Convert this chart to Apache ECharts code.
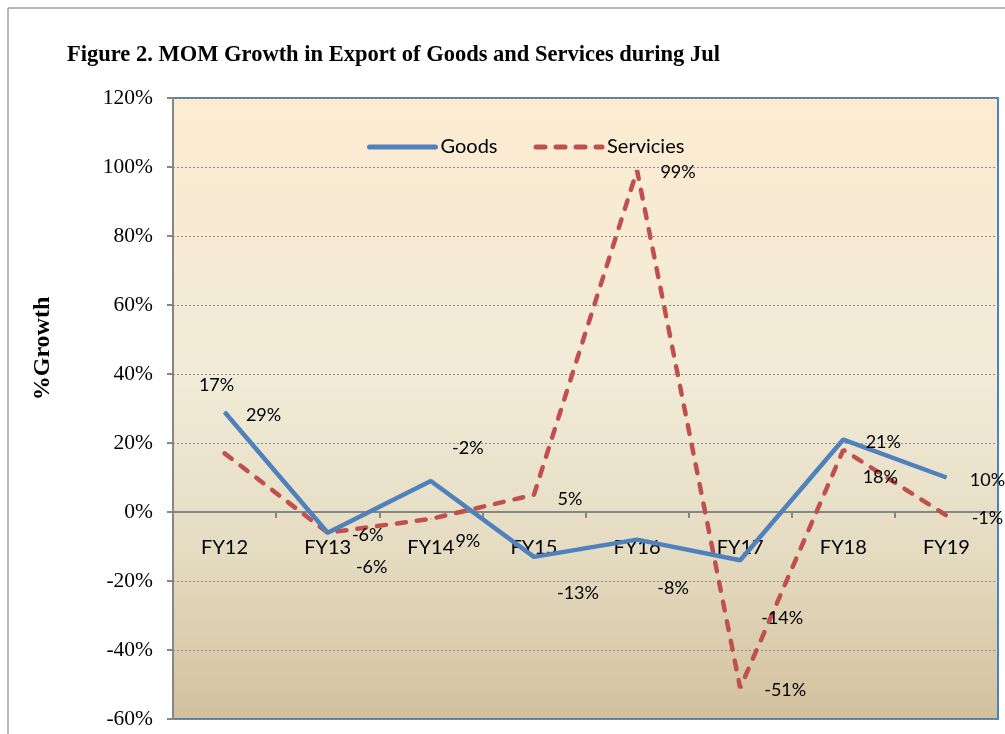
<!DOCTYPE html>
<html>
<head>
<meta charset="utf-8">
<script src="https://cdn.jsdelivr.net/npm/echarts@6/dist/echarts.min.js"></script>
<style>
  html, body { margin: 0; padding: 0; background: #fff; }
  #chartDom { width: 1005px; height: 734px; }
</style>
</head>
<body>
<div id="chartDom"></div>
<script>
// data
const years = ['FY12', 'FY13', 'FY14', 'FY15', 'FY16', 'FY17', 'FY18', 'FY19']
const goods = [29, -6, 9, -13, -8, -14, 21, 10]
const servicies = [17, -6, -2, 5, 99, -51, 18, -1]
const yTicks = { min: -60, max: 120, interval: 20 }

// label offsets (Excel put them a bit all over the place)
const goodsLabelOff = [[39, 3], [40, 2], [37, 60], [44, 36], [36, 49], [42, 58], [40, 3], [41, 3]]
const servLabelOff = [[-8, -68], [44, 34], [37, -71], [36, 4], [41, 2], [45, 2], [37, 27], [41, 3]]

function withLabels(vals, offs) {
  return vals.map((v, i) => ({ value: v, label: { offset: offs[i] } }))
}

const labelStyle = {
  show: true,
  position: 'inside',
  formatter: '{c}%',
  color: '#000',
  fontFamily: 'Lato',
  fontSize: 18
}

const chart = echarts.init(document.getElementById('chartDom'))

const option = {
  animation: false,
  backgroundColor: '#fff',
  title: {
    text: 'Figure 2. MOM Growth in Export of Goods and Services during Jul',
    left: 62,
    top: 39,
    textStyle: {
      fontFamily: 'Liberation Serif',
      fontWeight: 'bold',
      fontSize: 22.5,
      color: '#000'
    }
  },
  graphic: [
    { type: 'line', shape: { x1: 8, y1: 8, x2: 1005, y2: 8 }, style: { stroke: '#a0a0a0', lineWidth: 1.5 } },
    { type: 'line', shape: { x1: 8, y1: 8, x2: 8, y2: 734 }, style: { stroke: '#a0a0a0', lineWidth: 1.5 } }
  ],
  legend: {
    left: 362,
    top: 132,
    itemWidth: 66,
    itemHeight: 14,
    itemGap: 36,
    itemStyle: { opacity: 0 },
    lineStyle: { width: 5, cap: 'round' },
    textStyle: { fontFamily: 'Lato', fontSize: 20, color: '#000' },
    data: ['Goods', 'Servicies']
  },
  grid: {
    left: 173,
    right: 7,
    top: 98,
    bottom: 15,
    outerBoundsMode: 'none',
    show: true,
    borderColor: '#4F81BD',
    borderWidth: 2,
    backgroundColor: {
      type: 'linear', x: 0, y: 0, x2: 0, y2: 1,
      colorStops: [
        { offset: 0, color: '#FDEBD1' },
        { offset: 0.45, color: '#F1EBD7' },
        { offset: 0.75, color: '#E4DAC0' },
        { offset: 1, color: '#D2C09C' }
      ]
    }
  },
  xAxis: {
    type: 'category',
    data: years,
    axisLine: { onZero: true, lineStyle: { color: '#868686', width: 2 } },
    axisTick: { show: true, length: 6, lineStyle: { color: '#868686', width: 2 } },
    // labels stay at the grid edge in v6, pull them up under the zero line
    axisLabel: { margin: -181, fontFamily: 'Lato', fontSize: 20, color: '#000' },
    splitLine: { show: false }
  },
  yAxis: {
    type: 'value',
    min: yTicks.min,
    max: yTicks.max,
    interval: yTicks.interval,
    name: '%Growth',
    nameLocation: 'middle',
    nameRotate: 90,
    nameGap: 118,
    nameTextStyle: {
      fontFamily: 'Liberation Serif',
      fontWeight: 'bold',
      fontSize: 24,
      color: '#000',
      padding: [0, 0, 0, 120]
    },
    axisLine: { show: true, lineStyle: { color: '#868686', width: 2 } },
    axisTick: { show: true, length: 6, lineStyle: { color: '#868686', width: 2 } },
    axisLabel: {
      margin: 20,
      formatter: '{value}%',
      fontFamily: 'Liberation Serif',
      fontSize: 21.5,
      color: '#000'
    },
    splitLine: { lineStyle: { color: '#8c8c8c', type: [2, 2], width: 1 } }
  },
  series: [
    {
      name: 'Goods',
      type: 'line',
      data: withLabels(goods, goodsLabelOff),
      symbol: 'circle',
      symbolSize: 1,
      color: '#4F81BD',
      lineStyle: { color: '#4F81BD', width: 4.5 },
      label: labelStyle,
      z: 3
    },
    {
      name: 'Servicies',
      type: 'line',
      data: withLabels(servicies, servLabelOff),
      symbol: 'circle',
      symbolSize: 1,
      color: '#C0504D',
      lineStyle: { color: '#C0504D', width: 4.5, type: [9, 11], cap: 'round' },
      label: labelStyle,
      z: 2
    }
  ]
}

chart.setOption(option)
</script>
</body>
</html>
